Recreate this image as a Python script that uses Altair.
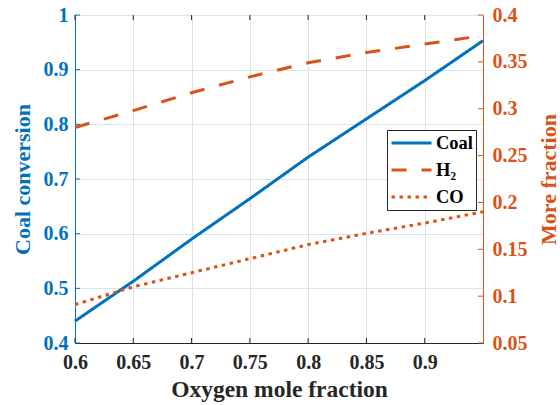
import altair as alt
import pandas as pd

# ---- data ----
oxygen = [0.60, 0.65, 0.70, 0.75, 0.80, 0.85, 0.90, 0.95]
coal = [0.440, 0.513, 0.590, 0.664, 0.740, 0.810, 0.880, 0.953]
h2 = [0.280, 0.298, 0.317, 0.334, 0.349, 0.360, 0.369, 0.378]
co = [0.091, 0.110, 0.125, 0.140, 0.155, 0.167, 0.178, 0.190]
series = ["Coal", "H₂", "CO"]
x_ticks = [0.6, 0.65, 0.7, 0.75, 0.8, 0.85, 0.9]
left_ticks = [0.4, 0.5, 0.6, 0.7, 0.8, 0.9, 1.0]
right_ticks = [0.05, 0.1, 0.15, 0.2, 0.25, 0.3, 0.35, 0.4]

BLUE = "#0072BD"
ORANGE = "#D95319"
DARK = "#262626"
FONT = "Liberation Serif"
W, H = 408, 328

left_df = pd.DataFrame({"oxygen": oxygen, "value": coal, "series": "Coal"})
right_df = pd.concat([
    pd.DataFrame({"oxygen": oxygen, "value": h2, "series": "H₂"}),
    pd.DataFrame({"oxygen": oxygen, "value": co, "series": "CO"}),
])
xt_df = pd.DataFrame({"oxygen": x_ticks})
lt_df = pd.DataFrame({"value": left_ticks})
rt_df = pd.DataFrame({"value": right_ticks})

x_enc = alt.X(
    "oxygen:Q",
    scale=alt.Scale(domain=[0.6, 0.95], nice=False, zero=False),
    axis=alt.Axis(values=x_ticks, format="~g", title="Oxygen mole fraction",
                  grid=True, gridColor="#e0e0e0", domainColor=DARK,
                  labelColor=DARK, titleColor=DARK, ticks=False,
                  labelPadding=9, titlePadding=5, titleFontSize=23.5,
                  labelFlush=False, labelOverlap=False),
)

y_left = alt.Y(
    "value:Q",
    scale=alt.Scale(domain=[0.4, 1.0], nice=False, zero=False),
    axis=alt.Axis(orient="left", values=left_ticks, format="~g",
                  title="Coal conversion", grid=True, gridColor="#d3e5f3",
                  domainColor=BLUE, labelColor=BLUE, titleColor=BLUE,
                  ticks=False, labelPadding=7, titlePadding=9,
                  labelFlush=False, labelOverlap=False),
)

y_right = alt.Y(
    "value:Q",
    scale=alt.Scale(domain=[0.05, 0.4], nice=False, zero=False),
    axis=alt.Axis(orient="right", values=right_ticks, format="~g",
                  title="More fraction", grid=False, titleAngle=270,
                  titleX=65, titleY=H / 2, titleAlign="center",
                  titleBaseline="middle",
                  domainColor=ORANGE, labelColor=ORANGE, titleColor=ORANGE,
                  ticks=False, labelPadding=9,
                  labelFlush=False, labelOverlap=False),
)

legend = alt.Legend(
    orient="none", legendX=312, legendY=115, title=None,
    symbolType="stroke", symbolSize=1600, symbolStrokeWidth=3,
    labelFont=FONT, labelFontSize=18.5, labelFontWeight="bold", labelColor="black",
    labelOffset=3, clipHeight=20,
    strokeColor=DARK, fillColor="white", padding=3, rowPadding=7,
)

color = alt.Color("series:N", scale=alt.Scale(domain=series, range=[BLUE, ORANGE, ORANGE]),
                  legend=legend)
dash = alt.StrokeDash("series:N",
                      scale=alt.Scale(domain=series, range=[[1, 0], [15, 15], [3.5, 4.5]]),
                      legend=legend)

coal_line = alt.Chart(left_df).mark_line(strokeWidth=3).encode(
    x=x_enc, y=y_left, color=color, strokeDash=dash)

left_tick_marks = alt.Chart(lt_df).mark_rule(color=BLUE, strokeWidth=1).encode(
    y=y_left, x=alt.value(0), x2=alt.value(5))

x_tick_bottom = alt.Chart(xt_df).mark_rule(color=DARK, strokeWidth=1).encode(
    x=x_enc, y=alt.value(H - 5), y2=alt.value(H))
x_tick_top = alt.Chart(xt_df).mark_rule(color=DARK, strokeWidth=1).encode(
    x=x_enc, y=alt.value(0), y2=alt.value(5))

right_lines = alt.Chart(right_df).mark_line(strokeWidth=3).encode(
    x=x_enc, y=y_right, color=color, strokeDash=dash)

right_tick_marks = alt.Chart(rt_df).mark_rule(color=ORANGE, strokeWidth=1).encode(
    y=y_right, x=alt.value(W - 5), x2=alt.value(W))

left_layer = alt.layer(coal_line, left_tick_marks, x_tick_bottom, x_tick_top)
right_layer = alt.layer(right_lines, right_tick_marks)

chart = alt.layer(left_layer, right_layer).resolve_scale(y="independent").properties(
    width=W, height=H,
    autosize=alt.AutoSizeParams(type="none"),
    padding={"left": 75, "top": 15, "right": 77, "bottom": 62},
    background="white",
).configure_view(
    stroke=DARK, strokeWidth=1
).configure_axis(
    labelFont=FONT, titleFont=FONT, labelFontSize=20, titleFontSize=22,
    labelFontWeight="bold", titleFontWeight="bold", domainWidth=1,
)

chart.save("out.html", embed_options={"renderer": "svg", "actions": False})
